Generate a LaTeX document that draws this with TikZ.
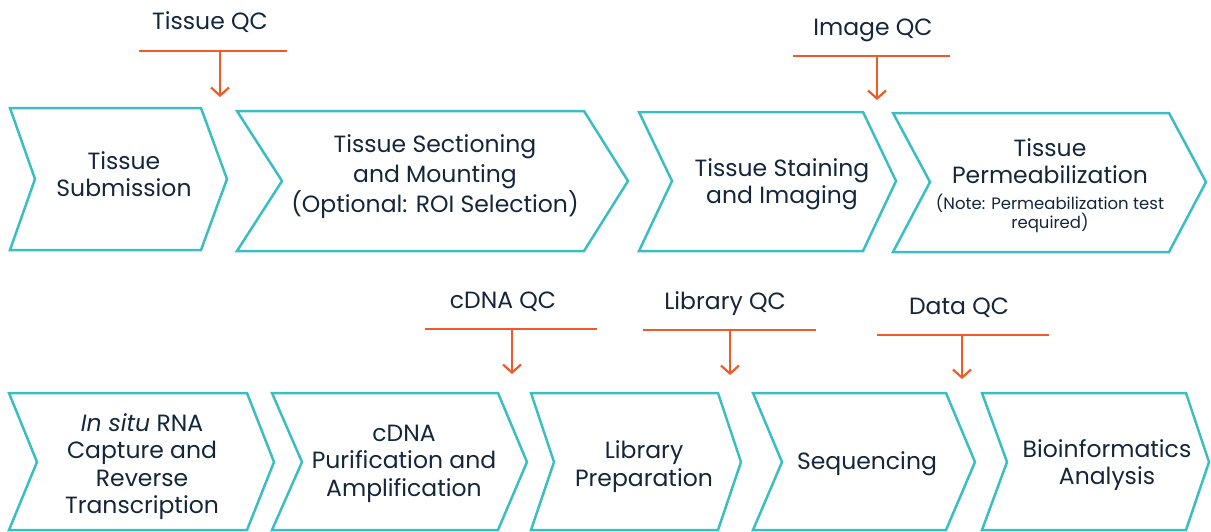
\documentclass[tikz,border=0pt]{standalone}
\usepackage{fontspec}
\setmainfont{Poppins}
\usepackage{xcolor}
\usepackage{tikz}
\usetikzlibrary{arrows.meta}
\definecolor{stepteal}{RGB}{59,190,194}
\definecolor{qcorange}{RGB}{240,90,40}
\definecolor{textnavy}{RGB}{20,38,60}

\begin{document}
\begin{tikzpicture}[x=1pt,y=-1pt,
	chev/.style={draw=stepteal,line width=2.5pt,line join=miter},
	steptext/.style={align=center,text=textnavy,inner sep=0pt,font=\fontsize{23.5}{27.5}\selectfont},
	qclabel/.style={text=textnavy,inner sep=0pt,anchor=base,font=\fontsize{23.5}{25}\selectfont},
	qcbar/.style={draw=qcorange,line width=2.2pt},
	qcarrow/.style={qcbar,-{Straight Barb[length=8pt,width=18pt]}}]
	\useasboundingbox (0,0) rectangle (1211,531);
	
	% chevrons: left/notch/right/tip/top/middle/bottom
	\foreach \l/\n/\r/\p/\t/\m/\b in {10/35/201/227/108/179/250, 237/282/584/628/111/181/251,
		639/672/863/896/112/181/251, 893/930/1169/1206/113/182/252,
		9/37/247/274/393/462/530, 272/302/498/527/393/462/530, 531/554/718/741/393/462/530,
		753/782/946/975/393/462/530, 982/1007/1186/1209/393/462/530}{
		\draw[chev] (\l,\t) -- (\r,\t) -- (\p,\m) -- (\r,\b) -- (\l,\b) -- (\n,\m) -- cycle;
	}
	
	% steps
	\node[steptext] (submission) at (124,174) {Tissue\\Submission};
	\node[steptext,font=\fontsize{23.5}{30}\selectfont] (sectioning) at (435,176.5) {Tissue Sectioning\\and Mounting\\(Optional: ROI Selection)};
	\node[steptext] (staining) at (782,184) {Tissue Staining\\and Imaging};
	\node[steptext] (permeabilization) at (1050,161) {Tissue\\Permeabilization};
	\node[steptext,font=\fontsize{16.5}{19}\selectfont] (permnote) at (1050,213.5) {(Note: Permeabilization test\\required)};
	\node[steptext] (capture) at (142,466.5) {\textit{In situ} RNA\\Capture and\\Reverse\\Transcription};
	\node[steptext] (cdnaprep) at (404,463.5) {cDNA\\Purification and\\Amplification};
	\node[steptext] (libprep) at (644,466.5) {Library\\Preparation};
	\node[steptext] (sequencing) at (867,464) {Sequencing};
	\node[steptext] (bioinfo) at (1107,465) {Bioinformatics\\Analysis};
	
	% QC checkpoints
	\node[qclabel] (tissueqc) at (210,29) {Tissue QC};
	\draw[qcbar] (139,51) -- (287,51);
	\coordinate (tissuebar) at (220,51);
	\coordinate (tissuein) at (220,97);
	\draw[qcarrow] (tissuebar) -- (tissuein);
	
	\node[qclabel] (imageqc) at (873,35) {Image QC};
	\draw[qcbar] (793,56) -- (950,56);
	\coordinate (imagebar) at (877,56);
	\coordinate (imagein) at (877,100);
	\draw[qcarrow] (imagebar) -- (imagein);
	
	\node[qclabel] (cdnaqc) at (503,308) {cDNA QC};
	\draw[qcbar] (425,329) -- (597,329);
	\coordinate (cdnabar) at (512,329);
	\coordinate (cdnain) at (512,374);
	\draw[qcarrow] (cdnabar) -- (cdnain);
	
	\node[qclabel] (libraryqc) at (725,309) {Library QC};
	\draw[qcbar] (643,330) -- (816,330);
	\coordinate (librarybar) at (730,330);
	\coordinate (libraryin) at (730,375);
	\draw[qcarrow] (librarybar) -- (libraryin);
	
	\node[qclabel] (dataqc) at (959,314) {Data QC};
	\draw[qcbar] (877,335) -- (1049,335);
	\coordinate (databar) at (962,335);
	\coordinate (datain) at (962,379);
	\draw[qcarrow] (databar) -- (datain);
\end{tikzpicture}
\end{document}
